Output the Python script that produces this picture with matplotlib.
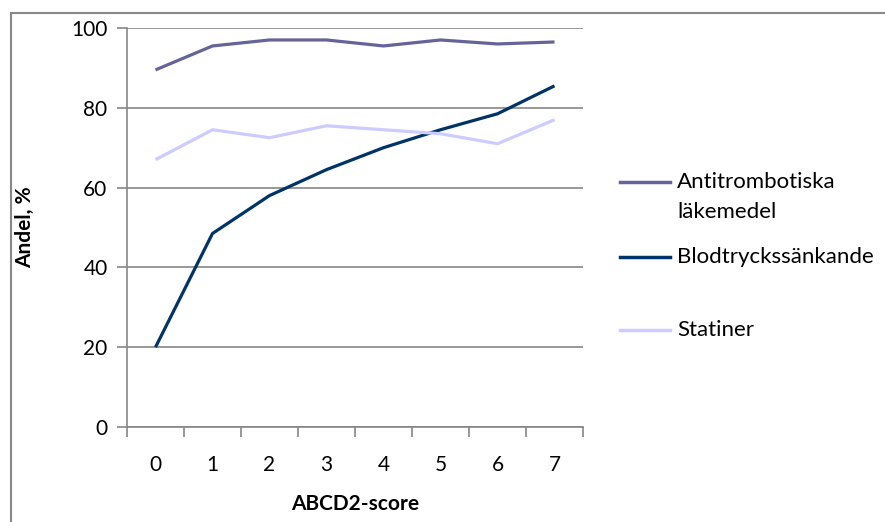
import numpy as np
import matplotlib.pyplot as plt
from matplotlib.lines import Line2D
from matplotlib.patches import Rectangle

plt.rcParams['font.family'] = ['Lato', 'DejaVu Sans']

# andel patienter per ABCD2-score
scores = ['0', '1', '2', '3', '4', '5', '6', '7']
antitrombotiska = [89.5, 95.5, 97.0, 97.0, 95.5, 97.0, 96.0, 96.5]
blodtryck = [20.0, 48.5, 58.0, 64.5, 70.0, 74.5, 78.5, 85.5]
statiner = [67.0, 74.5, 72.5, 75.5, 74.5, 73.5, 71.0, 77.0]

labels = ['Antitrombotiska\nläkemedel', 'Blodtryckssänkande', 'Statiner']
colors = ['#64649b', '#003366', '#ccccff']
series = [antitrombotiska, blodtryck, statiner]

W, H = 885, 522
fig = plt.figure(figsize=(W / 100, H / 100), dpi=100)
ax = fig.add_axes([127 / W, 1 - 427 / H, 456 / W, 399 / H])

x = np.arange(len(scores))
for vals, col in zip(series, colors):
    ax.plot(x, vals, color=col, lw=2.3, solid_capstyle='butt')

ax.set_xlim(-0.5, len(scores) - 0.5)
ax.set_ylim(0, 100)
ax.set_yticks(range(0, 101, 20))
ax.set_xticks(x)
ax.set_xticklabels(scores)
ax.set_xticks(np.arange(-0.5, len(scores)), minor=True)
ax.tick_params(axis='x', which='major', length=0, pad=20, labelsize=15)
ax.tick_params(axis='x', which='minor', length=7, width=1.2, color='#868686')
ax.tick_params(axis='y', length=7, width=1.2, color='#868686', labelsize=15, pad=7)
ax.grid(axis='y', color='#868686', lw=1.2)
ax.set_axisbelow(True)
for s in ['top', 'right']:
    ax.spines[s].set_visible(False)
for s in ['left', 'bottom']:
    ax.spines[s].set_color('#868686')
    ax.spines[s].set_linewidth(1.2)

ax.set_xlabel('ABCD2-score', fontsize=15, fontweight='bold', va='center')
ax.xaxis.set_label_coords(0.5, -(504 - 427) / 399)
ax.set_ylabel('Andel, %', fontsize=15, fontweight='bold')
ax.yaxis.set_label_coords(-(127 - 35) / 456, 0.5)

# förklaring till höger om diagrammet
legend_y = [182, 257, 330]
for lab, col, yp in zip(labels, colors, legend_y):
    yf = 1 - yp / H
    fig.add_artist(Line2D([620 / W, 670 / W], [yf, yf], color=col, lw=2.5,
                          transform=fig.transFigure))
    for i, line in enumerate(lab.split('\n')):
        fig.text(677 / W, 1 - (yp + 30 * i) / H, line, fontsize=16, va='center')

# ram runt diagrammet
fig.add_artist(Rectangle((11 / W, -0.1), 1.2, 0.1 + (H - 13) / H,
                         fill=False, ec='#888888', lw=1.5, transform=fig.transFigure))

fig.savefig('out.png', dpi=100)
